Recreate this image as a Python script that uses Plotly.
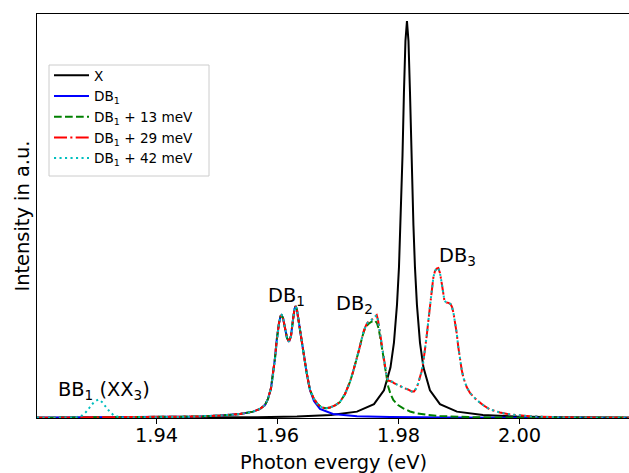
import plotly.graph_objects as go

# ---------------- data ----------------
X_E = [1.92025, 1.935, 1.945, 1.9566, 1.96322, 1.96884, 1.97314, 1.97595, 1.9776, 1.97867,
       1.97925, 1.97975, 1.98008, 1.98033, 1.98066, 1.9809, 1.98115, 1.9814, 1.98165, 1.9819,
       1.98214, 1.98247, 1.98272, 1.98305, 1.98355, 1.98413, 1.9852, 1.98685, 1.98966, 1.99396,
       1.99958, 2.0062, 2.0181]
X_I = [0.0004, 0.0008, 0.0013, 0.002, 0.0035, 0.0075, 0.016, 0.035, 0.07, 0.127,
       0.19, 0.285, 0.38, 0.485, 0.66, 0.82, 0.95, 1.0, 0.95, 0.82,
       0.66, 0.485, 0.38, 0.285, 0.19, 0.127, 0.07, 0.035, 0.016, 0.0075,
       0.0035, 0.002, 0.0012]

# DB1 doublet (shared by all DB curves)
DB1_E = [1.92025, 1.93397, 1.94388, 1.94719, 1.9505, 1.9538, 1.95595, 1.95711, 1.95793, 1.95843,
         1.95893, 1.95931, 1.95959, 1.95987, 1.96008, 1.96025, 1.9605, 1.96069, 1.96091, 1.96124,
         1.96157, 1.9619, 1.96223, 1.96256, 1.96281, 1.96301, 1.96322, 1.96355, 1.964, 1.96438,
         1.96483]
DB1_I = [0.0005, 0.0013, 0.0025, 0.0038, 0.0063, 0.010, 0.016, 0.0227, 0.0327, 0.048,
         0.0756, 0.113, 0.151, 0.196, 0.222, 0.239, 0.256, 0.259, 0.252, 0.227,
         0.2015, 0.192, 0.2065, 0.247, 0.2746, 0.282, 0.272, 0.239, 0.196, 0.151,
         0.113]

# DB1 alone: high-energy tail
DB1_TAIL_E = [1.96537, 1.96603, 1.96702, 1.96917, 1.97314, 1.9786, 1.98851, 2.0181]
DB1_TAIL_I = [0.0705, 0.0428, 0.0227, 0.010, 0.0045, 0.0025, 0.001, 0.0003]

# DB1 + 13 meV: adds DB2
DB13_TAIL_E = [1.96537, 1.96603, 1.96669, 1.96736, 1.96802, 1.96868, 1.9695, 1.97033, 1.97116, 1.97198,
               1.97248, 1.97309, 1.97347, 1.97392, 1.9743, 1.97474, 1.97512, 1.97562, 1.97612, 1.97645,
               1.97669, 1.97694, 1.97722, 1.97749, 1.97777, 1.97805, 1.97831, 1.97868, 1.97914, 1.97992,
               1.98079, 1.9819, 1.98301, 1.98488, 1.98686, 1.99231, 2.00008, 2.0181]
DB13_TAIL_I = [0.0705, 0.048, 0.034, 0.0264, 0.0244, 0.0264, 0.0315, 0.0403, 0.0605, 0.0907,
               0.116, 0.146, 0.171, 0.199, 0.219, 0.232, 0.238, 0.243, 0.2456, 0.239,
               0.227, 0.2065, 0.184, 0.156, 0.128, 0.103, 0.0788, 0.0605, 0.0453, 0.0327,
               0.0244, 0.0164, 0.0118, 0.0076, 0.005, 0.002, 0.0008, 0.0003]

# DB1 + 29 meV: adds DB2 and DB3
DB29_TAIL_E = [1.96537, 1.96603, 1.96669, 1.96736, 1.96802, 1.96868, 1.9695, 1.97033, 1.97116, 1.97198,
               1.97248, 1.97309, 1.97347, 1.97392, 1.9743, 1.97474, 1.97512, 1.97554, 1.97587, 1.97612,
               1.9764, 1.97661, 1.97678, 1.97702, 1.97727, 1.97749, 1.97777, 1.97805, 1.97831, 1.9786,
               1.97893, 1.97926, 1.97975, 1.98025, 1.98091, 1.98157, 1.98218, 1.98256, 1.98298, 1.98327,
               1.98355, 1.98383, 1.9841, 1.98438, 1.98466, 1.98493, 1.98521, 1.98549, 1.98575, 1.98603,
               1.98631, 1.98658, 1.98686, 1.98714, 1.98736, 1.9876, 1.98793, 1.98826, 1.9886, 1.98884,
               1.98909, 1.98934, 1.98962, 1.98988, 1.99017, 1.99045, 1.99074, 1.99127, 1.99182, 1.99293,
               1.99397, 1.99512, 1.99678, 1.99843, 2.00223, 2.0078, 2.0181]
DB29_TAIL_I = [0.0705, 0.048, 0.034, 0.0264, 0.0244, 0.0264, 0.0315, 0.0403, 0.0605, 0.0907,
               0.116, 0.146, 0.171, 0.199, 0.2217, 0.237, 0.244, 0.247, 0.252, 0.257,
               0.259, 0.247, 0.229, 0.204, 0.179, 0.154, 0.128, 0.104, 0.0945, 0.0932,
               0.0914, 0.088, 0.0844, 0.0788, 0.0756, 0.0718, 0.0668, 0.0668, 0.0756, 0.088,
               0.1008, 0.118, 0.141, 0.171, 0.2065, 0.244, 0.285, 0.322, 0.353, 0.370,
               0.3766, 0.378, 0.365, 0.340, 0.312, 0.295, 0.291, 0.290, 0.287, 0.280,
               0.2645, 0.244, 0.214, 0.179, 0.146, 0.121, 0.1008, 0.078, 0.063, 0.0453,
               0.0327, 0.0214, 0.0139, 0.0088, 0.0038, 0.0013, 0.0003]

# DB1 + 42 meV: additionally the BB1 (XX3) line at low energy
BB1_E = [1.92025, 1.92653, 1.92769, 1.92835, 1.92901, 1.92967, 1.9304, 1.93099, 1.93165, 1.93231,
         1.93298, 1.93397]
BB1_I = [0.0005, 0.0013, 0.0063, 0.0151, 0.0277, 0.0403, 0.0466, 0.0403, 0.0277, 0.0151,
         0.0063, 0.0013]

LABELS = ["X", "DB<sub>1</sub>", "DB<sub>1</sub> + 13 meV", "DB<sub>1</sub> + 29 meV", "DB<sub>1</sub> + 42 meV"]
COLORS = ["#000000", "#0000ff", "#008000", "#ff0000", "#00bfbf"]
DASHES = ["solid", "solid", "7.7px,3.3px", "13px,3.3px,2.1px,3.3px", "2.1px,3.4px"]

PEAK_TEXT = ["DB<sub>1</sub>", "DB<sub>2</sub>", "DB<sub>3</sub>", "BB<sub>1</sub> (XX<sub>3</sub>)"]
PEAK_E = [1.96157, 1.97281, 1.98983, 1.93132]
PEAK_I = [0.307, 0.287, 0.406, 0.0705]

TICKS = [1.94, 1.96, 1.98, 2.00]
X_RANGE = [1.92025, 2.0181]
Y_RANGE = [0, 1.0176]
X_TITLE = "Photon evergy (eV)"
Y_TITLE = "Intensity in a.u."

# ---------------- build series ----------------
series = [
    (X_E, X_I),
    (DB1_E + DB1_TAIL_E, DB1_I + DB1_TAIL_I),
    (DB1_E + DB13_TAIL_E, DB1_I + DB13_TAIL_I),
    (DB1_E + DB29_TAIL_E, DB1_I + DB29_TAIL_I),
    (BB1_E + DB1_E[2:] + DB29_TAIL_E, BB1_I + DB1_I[2:] + DB29_TAIL_I),
]

FONT = "DejaVu Sans"
BIG = 19.4
W, H = 629, 473
ML, MR, MT, MB = 37, 0, 14, 55
PW, PH = W - ML - MR, H - MT - MB


def px_x(p):
    return (p - ML) / PW


def px_y(p):
    return (H - MB - p) / PH


fig = go.Figure()
for (xs, ys), name, col, dash in zip(series, LABELS, COLORS, DASHES):
    fig.add_trace(go.Scatter(x=xs, y=ys, mode="lines", name=name,
                             line=dict(color=col, width=2, dash=dash)))

for t, e, i in zip(PEAK_TEXT, PEAK_E, PEAK_I):
    fig.add_annotation(x=e, y=i, text=t, showarrow=False,
                       font=dict(family=FONT, size=BIG, color="#000000"),
                       xanchor="center", yanchor="middle")

# axis titles
fig.add_annotation(xref="paper", yref="paper", x=0.5, y=px_y(462), text=X_TITLE,
                   showarrow=False, xanchor="center", yanchor="middle",
                   font=dict(family=FONT, size=BIG, color="#000000"))
fig.add_annotation(xref="paper", yref="paper", x=px_x(21.5), y=0.5, text=Y_TITLE,
                   showarrow=False, xanchor="center", yanchor="middle", textangle=-90,
                   font=dict(family=FONT, size=BIG, color="#000000"))

# legend frame (matplotlib-like box)
fig.add_shape(type="rect", xref="paper", yref="paper", layer="above",
              x0=px_x(49), x1=px_x(209), y0=px_y(176), y1=px_y(65),
              fillcolor="white", line=dict(color="#cccccc", width=1))

fig.update_layout(
    width=W, height=H,
    margin=dict(l=ML, r=MR, t=MT, b=MB, autoexpand=False),
    paper_bgcolor="white", plot_bgcolor="white",
    font=dict(family=FONT, color="#000000"),
    showlegend=True,
    legend=dict(x=px_x(49), y=px_y(60), xanchor="left", yanchor="top",
                bgcolor="rgba(0,0,0,0)", borderwidth=0, itemwidth=35,
                font=dict(family=FONT, size=13.6, color="#000000")),
    xaxis=dict(range=X_RANGE, tickvals=TICKS, tickformat=".2f", automargin=False,
               showgrid=False, zeroline=False, showline=True, mirror=True,
               linecolor="#000000", linewidth=1,
               ticks="outside", ticklen=5, tickwidth=1, tickcolor="#000000",
               ticklabelstandoff=-5,
               tickfont=dict(family=FONT, size=BIG, color="#000000"),
               layer="below traces"),
    yaxis=dict(range=Y_RANGE, showticklabels=False, ticks="", automargin=False,
               showgrid=False, zeroline=False, showline=True, mirror=False,
               linecolor="#000000", linewidth=1,
               layer="below traces"),
)

fig.write_html("out.html", config={"displayModeBar": False},
               post_script="document.body.style.margin='0';document.body.style.padding='0';"
                           "document.documentElement.style.overflow='hidden';")
